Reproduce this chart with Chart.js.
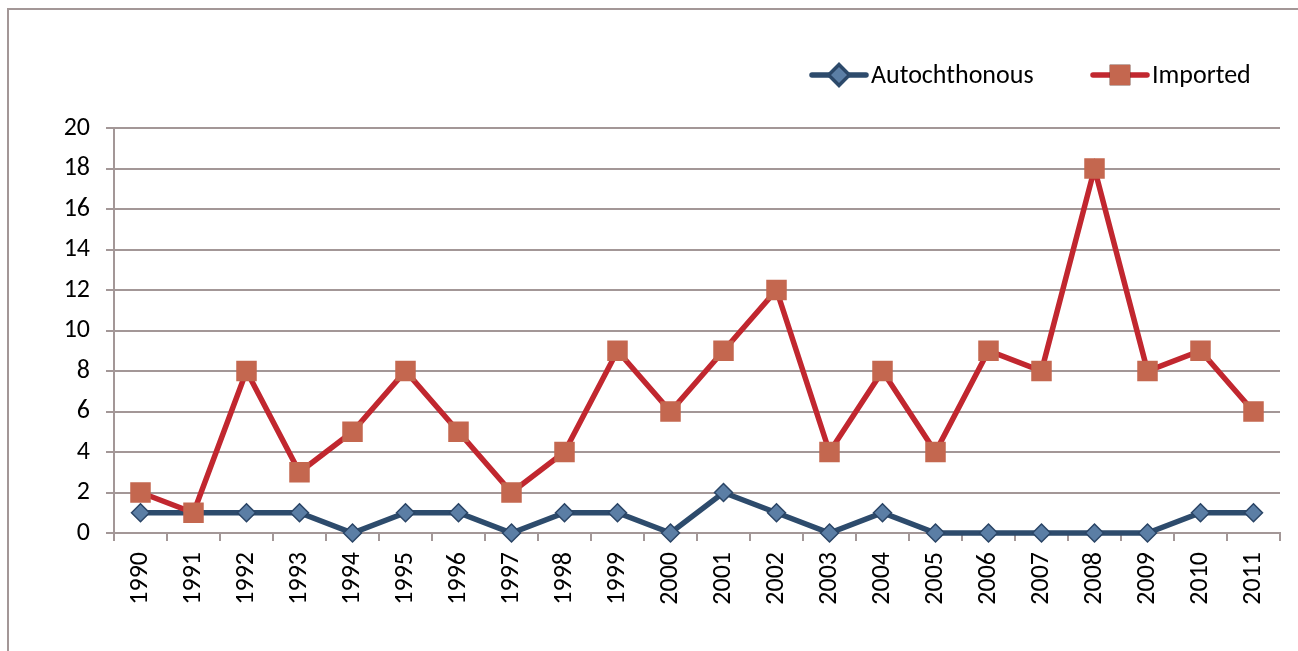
<!DOCTYPE html>
<html>
<head>
<meta charset="utf-8">
<script src="https://cdn.jsdelivr.net/npm/chart.js@4"></script>
<style>
  html, body { margin: 0; padding: 0; background: #fff; }
  #wrap { position: relative; width: 1298px; height: 651px; overflow: hidden; }
  #frame { position: absolute; left: 7px; top: 8px; width: 1400px; height: 800px; border: 2px solid #a39797; }
  #myChart { position: absolute; left: 0; top: 0; }
</style>
</head>
<body>
<div id="wrap">
  <div id="frame"></div>
  <canvas id="myChart" width="1298" height="651"></canvas>
</div>
<script>
const years = ['1990','1991','1992','1993','1994','1995','1996','1997','1998','1999','2000',
               '2001','2002','2003','2004','2005','2006','2007','2008','2009','2010','2011'];
const autochthonous = [1,1,1,1,0,1,1,0,1,1,0,2,1,0,1,0,0,0,0,0,1,1];
const imported = [2,1,8,3,5,8,5,2,4,9,6,9,12,4,8,4,9,8,18,8,9,6];
const yTicks = [0,2,4,6,8,10,12,14,16,18,20];

const FONT = "Carlito, 'Liberation Sans', sans-serif";
const gridColor = '#a39797';

// legend drawn by hand so the marker sits on a line like the original
const legendPlugin = {
  id: 'lineLegend',
  afterDraw(chart) {
    const c = chart.ctx;
    const items = [
      { ds: chart.data.datasets[0], x: 812 },
      { ds: chart.data.datasets[1], x: 1093 }
    ];
    const y = 75;
    c.save();
    items.forEach(it => {
      c.strokeStyle = it.ds.borderColor;
      c.lineWidth = 5.5;
      c.lineCap = 'round';
      c.beginPath();
      c.moveTo(it.x, y);
      c.lineTo(it.x + 54, y);
      c.stroke();
      Chart.helpers.drawPoint(c, {
        pointStyle: it.ds.pointStyle,
        radius: it.ds.pointRadius,
        borderWidth: it.ds.pointBorderWidth,
        rotation: 0
      }, it.x + 27, y);
      c.fillStyle = it.ds.pointBackgroundColor;
      c.strokeStyle = it.ds.pointBorderColor;
      c.lineWidth = it.ds.pointBorderWidth;
      c.fill();
      if (it.ds.pointBorderWidth) c.stroke();
      c.fillStyle = '#000';
      c.font = '26px ' + FONT;
      c.textBaseline = 'middle';
      c.textAlign = 'left';
      c.fillText(it.ds.label, it.x + 59, y + 1);
    });
    c.restore();
  }
};

const ctx = document.getElementById('myChart');
new Chart(ctx, {
  type: 'line',
  data: {
    labels: years,
    datasets: [{
      label: 'Autochthonous',
      data: autochthonous,
      borderColor: '#2d4b6c',
      borderWidth: 5.5,
      pointStyle: 'rectRot',
      pointRadius: 9,
      pointBackgroundColor: '#5b7ea5',
      pointBorderColor: '#2a4566',
      pointBorderWidth: 1.5,
      tension: 0,
      clip: false,
      order: 1
    }, {
      label: 'Imported',
      data: imported,
      borderColor: '#c1272f',
      borderWidth: 5.5,
      pointStyle: 'rect',
      pointRadius: 14.5,
      pointBackgroundColor: '#c4674f',
      pointBorderColor: '#c4674f',
      pointBorderWidth: 0,
      tension: 0,
      clip: false,
      order: 0
    }]
  },
  options: {
    responsive: false,
    animation: false,
    layout: { padding: { left: 0, right: 18, top: 128, bottom: 0 } },
    plugins: {
      legend: { display: false },
      tooltip: { enabled: false }
    },
    scales: {
      x: {
        offset: true,
        grid: { offset: true, drawOnChartArea: false, drawTicks: true, tickLength: 8, color: gridColor, lineWidth: 2 },
        border: { color: gridColor, width: 2 },
        ticks: { minRotation: 90, maxRotation: 90, padding: 11, color: '#000', font: { family: FONT, size: 26 } },
        afterFit(axis) { axis.height = 651 - 533; }
      },
      y: {
        min: 0,
        max: 20,
        afterBuildTicks(axis) { axis.ticks = yTicks.map(v => ({ value: v })); },
        grid: { color: gridColor, lineWidth: 2, tickLength: 8 },
        border: { color: gridColor, width: 2 },
        ticks: { padding: 16, color: '#000', font: { family: FONT, size: 26 } },
        afterFit(axis) { axis.width = 114; }
      }
    }
  },
  plugins: [legendPlugin]
});
</script>
</body>
</html>
